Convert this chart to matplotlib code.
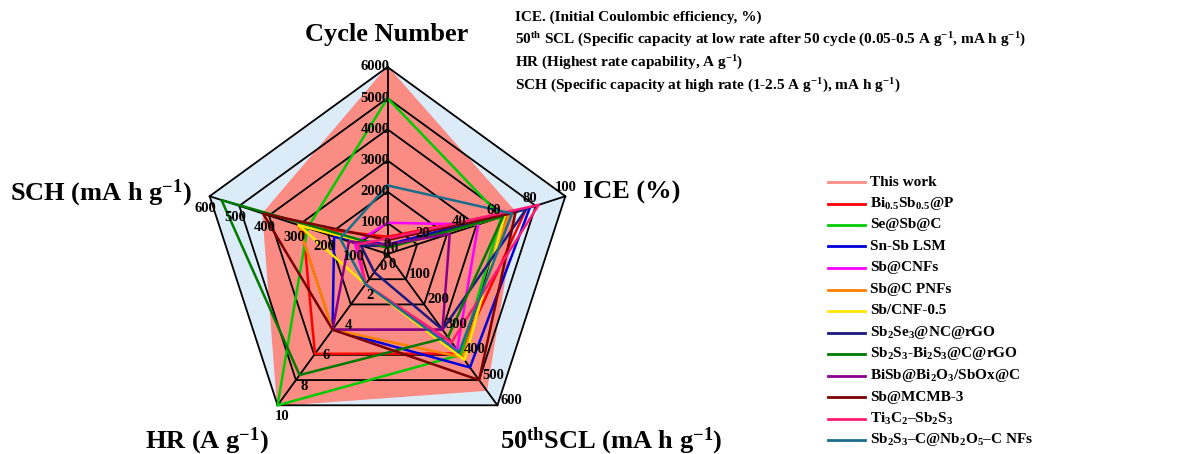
import numpy as np
import matplotlib.pyplot as plt
from matplotlib.lines import Line2D

plt.rcParams['font.family'] = ['Liberation Serif', 'DejaVu Serif']
plt.rcParams['font.weight'] = 'bold'
plt.rcParams['mathtext.fontset'] = 'custom'
plt.rcParams['mathtext.rm'] = 'Liberation Serif:bold'
plt.rcParams['mathtext.it'] = 'Liberation Serif:bold'
plt.rcParams['mathtext.bf'] = 'Liberation Serif:bold'

# radar axes: Cycle number, ICE, 50th SCL, HR, SCH
axis_max = [6000, 100, 600, 10, 600]
cycle_ticks = [0, 1000, 2000, 3000, 4000, 5000, 6000]
ice_ticks = [0, 20, 40, 60, 80, 100]
scl_ticks = [0, 100, 200, 300, 400, 500, 600]
hr_ticks = [0, 2, 4, 6, 8, 10]
sch_ticks = [0, 100, 200, 300, 400, 500, 600]

names = ['This work', r'Bi$_{0.5}$Sb$_{0.5}$@P', 'Se@Sb@C', 'Sn-Sb LSM', 'Sb@CNFs',
         'Sb@C PNFs', 'Sb/CNF-0.5', r'Sb$_2$Se$_3$@NC@rGO',
         r'Sb$_2$S$_3$-Bi$_2$S$_3$@C@rGO', r'BiSb@Bi$_2$O$_3$/SbOx@C', 'Sb@MCMB-3',
         r'Ti$_3$C$_2$–Sb$_2$S$_3$', r'Sb$_2$S$_3$–C@Nb$_2$O$_5$–C NFs']
colors = ['#FA8C84', '#FF0000', '#00CC00', '#0000DD', '#FF00FF', '#FF8000', '#FFE600',
          '#1A1A80', '#007A00', '#8B008B', '#7A0000', '#FF1A75', '#1A6E8C']

cycles = [6000, 550, 5000, 300, 1000, 200, 200, 250, 200, 300, 450, 500, 2200]
ice = [72, 78, 64, 80, 51, 68, 66, 78, 65, 35, 72, 85, 70]
scl = [540, 395, 400, 450, 380, 410, 420, 300, 330, 300, 500, 350, 390]
hr = [10, 6.6, 10, 5, 2, 5, 2, 1.2, 8, 5, 5, 2, 2]
sch = [420, 285, 270, 180, 110, 300, 300, 90, 560, 130, 420, 100, 160]

n = 5
theta = np.pi / 2 - np.arange(n) * 2 * np.pi / n
theta_c = np.append(theta, theta[0])

fig = plt.figure(figsize=(11.92, 4.54), dpi=100)
W, H = 1192, 454
cx, cy, R = 387.5, 254, 187
ax = fig.add_axes([(cx - R) / W, (H - cy - R) / H, 2 * R / W, 2 * R / H], projection='polar')
ax.set_ylim(0, 1)
ax.set_axis_off()

# background pentagon and grid
ax.fill(theta_c, np.ones(n + 1), color='#DCEBF8', zorder=0, clip_on=False)
data = np.array([cycles, ice, scl, hr, sch], dtype=float) / np.array(axis_max)[:, None]
r0 = np.append(data[:, 0], data[0, 0])
ax.fill(theta_c, r0, color=colors[0], zorder=1, clip_on=False)
for k in range(1, 7):
    ax.plot(theta_c, np.full(n + 1, k / 6), color='black', lw=1.3, zorder=2, clip_on=False)
for t in theta:
    ax.plot([t, t], [0, 1], color='black', lw=1.3, zorder=2, clip_on=False)

for i in range(1, len(names)):
    r = np.append(data[:, i], data[0, i])
    ax.plot(theta_c, r, color=colors[i], lw=1.8, zorder=3, clip_on=False)

# tick labels along each spoke
tick_sets = [cycle_ticks, ice_ticks, scl_ticks, hr_ticks, sch_ticks]
offsets = [(2, 0, 'right', 'center'), (0, 9, 'center', 'center'), (3, 5, 'left', 'center'),
           (5, -11, 'center', 'center'), (-4, -12, 'center', 'center')]
for j, ticks in enumerate(tick_sets):
    dx, dy, ha, va = offsets[j]
    for v in ticks:
        ax.annotate(str(v), xy=(theta[j], v / axis_max[j]), xytext=(dx, dy),
                    textcoords='offset pixels', ha=ha, va=va, fontsize=10.5,
                    fontweight='bold', zorder=4, annotation_clip=False)

def ftext(x, y, s, size, ha='center'):
    fig.text(x / W, 1 - y / H, s, fontsize=size, ha=ha, va='center', fontweight='bold')

ftext(387, 34, 'Cycle Number', 19)
ftext(583, 192, 'ICE (%)', 19, ha='left')
ftext(10, 193, r'SCH (mA h g$^{\mathrm{-1}}$)', 19, ha='left')
ftext(145, 441, r'HR (A g$^{\mathrm{-1}}$)', 19, ha='left')
ftext(500, 441, r'50$^{\mathrm{th}}$SCL (mA h g$^{\mathrm{-1}}$)', 19, ha='left')

notes = ['ICE. (Initial Coulombic efficiency, %)',
         r'50$^{\mathrm{th}}$ SCL (Specific capacity at low rate after 50 cycle (0.05-0.5 A g$^{\mathrm{-1}}$, mA h g$^{\mathrm{-1}}$)',
         r'HR (Highest rate capability, A g$^{\mathrm{-1}}$)',
         r'SCH (Specific capacity at high rate (1-2.5 A g$^{\mathrm{-1}}$), mA h g$^{\mathrm{-1}}$)']
for k, s in enumerate(notes):
    ftext(515, 17 + 23 * k, s, 11, ha='left')

# legend rows at a fixed pitch
for k, (nm, c) in enumerate(zip(names, colors)):
    y = 1 - (182 + 21.5 * k) / H
    fig.add_artist(Line2D([828 / W, 865 / W], [y, y], color=c, lw=2))
    fig.text(870 / W, y, nm, fontsize=11, ha='left', va='center', fontweight='bold')

fig.savefig('out.png', dpi=100)
